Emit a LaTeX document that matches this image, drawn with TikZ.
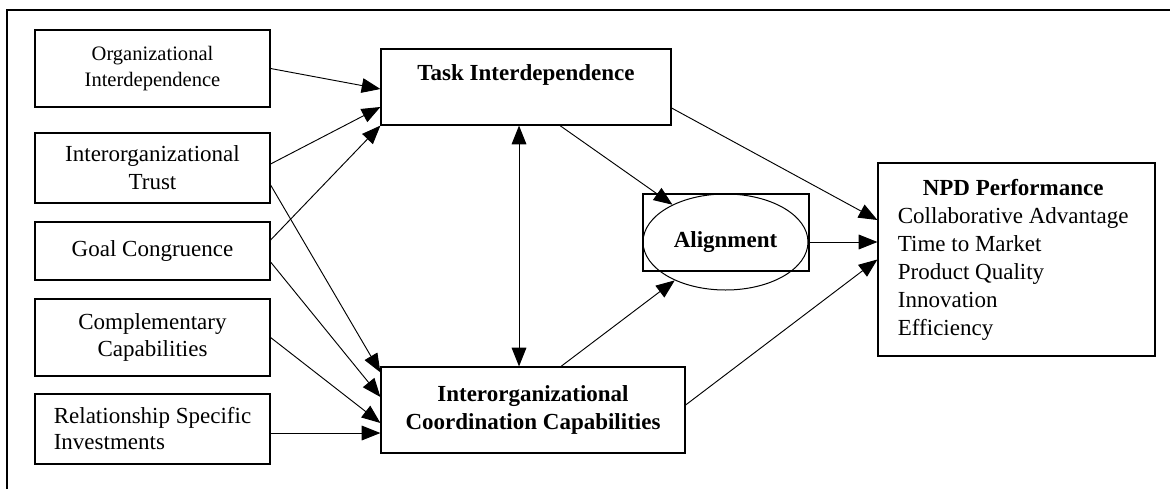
\documentclass[tikz,border=0pt]{standalone}
\usepackage{fontspec}
\setmainfont{Liberation Serif}
\usetikzlibrary{arrows.meta,shapes.geometric,calc}
\tikzset{
  box/.style={draw, line width=0.9pt, inner sep=0pt, align=center, minimum width=176.25pt},
  bold/.style={font=\fontsize{17.25}{21}\selectfont\bfseries}
}
\begin{document}
\begin{tikzpicture}[x=0.75pt, y=-0.75pt, font=\fontsize{17.25}{21}\selectfont, >={Triangle[length=14pt,width=11pt]}]
      \useasboundingbox (0,0) rectangle (1170,489);
      \draw[line width=1.1pt] (7,489) -- (7,10) -- (1170,10);
      \draw
        (152.5,68.5) node[box, minimum height=57.75pt, font=\fontsize{15.4}{19.5}\selectfont] (org){Organizational\\Interdependence}
        (152.5,168) node[box, minimum height=52.5pt] (trust){Interorganizational\\Trust}
        (152.5,251) node[box, minimum height=43.5pt] (goal){Goal Congruence}
        (152.5,337.5) node[box, minimum height=57.75pt, font=\fontsize{17.25}{20.25}\selectfont] (comp){Complementary\\Capabilities}
        (152.5,429) node[box, minimum height=52.5pt, align=left, font=\fontsize{17.25}{19.5}\selectfont] (rel){Relationship Specific\\Investments}
        (526,87) node[box, bold, minimum width=217.5pt, minimum height=57pt] (task){Task Interdependence\\\mbox{}}
        (533,410) node[box, bold, minimum width=228pt, minimum height=64.5pt] (icc){Interorganizational\\Coordination Capabilities}
        (726,232.5) node[box, minimum width=124.5pt, minimum height=57.75pt] (alignbox){}
        (725.5,242) node[ellipse, draw, bold, line width=0.75pt, inner sep=0pt, minimum width=123.75pt, minimum height=72pt] (align){Alignment}
        (1016.5,259.5) node[box, minimum width=207.75pt, minimum height=144.75pt] (npd){\begin{tabular}{@{}l@{}}\multicolumn{1}{@{}c@{}}{\textbf{NPD Performance}}\\Collaborative Advantage\\Time to Market\\Product Quality\\Innovation\\Efficiency\end{tabular}\hspace*{5pt}};
      \begin{scope}[->, line width=0.7pt]
        \draw (org.east) to ($(task.west)+(0,2)$);
        \draw ($(trust.east)+(0,-4)$) to ($(task.west)+(0,20)$);
        \draw ($(goal.east)+(0,-11)$) to (task.south west);
        \draw ($(trust.east)+(0,17)$) to ($(icc.north west)+(0,6)$);
        \draw ($(goal.east)+(0,11)$) to ($(icc.west)+(0,-13)$);
        \draw (comp.east) to ($(icc.west)+(0,13)$);
        \coordinate (r) at ($(rel.east)+(0,4)$);
        \draw (r) to (r -| icc.west);
        \draw ($(task.south)+(34,0)$) to (align);
        \draw ($(icc.north)+(28,0)$) to (align);
        \draw ($(task.east)+(0,21)$) to ($(npd.west)+(0,-39.5)$);
        \draw (align.east) to (align.east -| npd.west);
        \draw ($(icc.east)+(0,-5)$) to (npd.west);
        \draw[<->] ($(task.south)+(-7,0)$) to ($(icc.north)+(-14,0)$);
      \end{scope}
    \end{tikzpicture}
\end{document}
